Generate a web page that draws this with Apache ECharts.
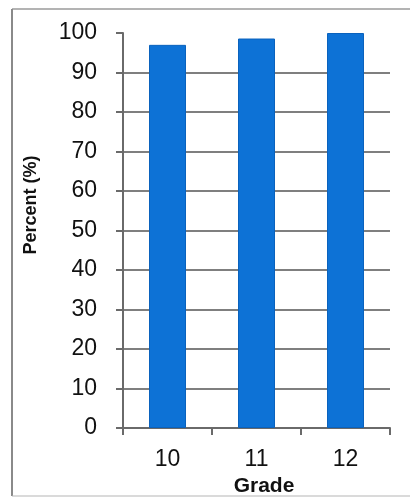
<!DOCTYPE html>
<html>
<head>
<meta charset="utf-8">
<script src="https://cdn.jsdelivr.net/npm/echarts@6/dist/echarts.min.js"></script>
<style>
  html, body { margin: 0; padding: 0; background: #ffffff; }
  #chart { width: 412px; height: 498px; }
</style>
</head>
<body>
<div id="chart"></div>
<script>
// Share of students by grade
const grades = ['10', '11', '12'];
const percents = [97.0, 98.6, 100];
const yTicks = [0, 10, 20, 30, 40, 50, 60, 70, 80, 90, 100];

const FONT = '"Liberation Sans", Arial, sans-serif';

// Grid lines for every tick except the top one
const gridColors = yTicks.map(v => (v === 100 ? 'rgba(0,0,0,0)' : '#555555'));

const chart = echarts.init(document.getElementById('chart'), null, { renderer: 'canvas' });

chart.setOption({
  animation: false,
  backgroundColor: '#ffffff',
  grid: { left: 123, right: 22, top: 33, bottom: 70, containLabel: false },
  xAxis: {
    type: 'category',
    data: grades,
    boundaryGap: true,
    axisLine: { show: true, lineStyle: { color: '#6a6a6a', width: 2 } },
    axisTick: { show: true, length: 7, alignWithLabel: false, lineStyle: { color: '#6a6a6a', width: 2 } },
    axisLabel: { color: '#111111', fontSize: 23, fontFamily: FONT, margin: 20 },
    splitLine: { show: false }
  },
  yAxis: {
    type: 'value',
    min: 0,
    max: 100,
    interval: 10,
    axisLine: { show: true, lineStyle: { color: '#6a6a6a', width: 2 } },
    axisTick: { show: true, length: 7, lineStyle: { color: '#6a6a6a', width: 2 } },
    axisLabel: { color: '#111111', fontSize: 23, fontFamily: FONT, margin: 26 },
    splitLine: { show: true, lineStyle: { color: gridColors, width: 1.5 } }
  },
  series: [{
    type: 'bar',
    data: percents,
    barWidth: 37,
    itemStyle: { color: '#0d72d6', borderColor: '#0a62bd', borderWidth: 1 }
  }],
  graphic: [
    // frame around the figure
    { type: 'line', shape: { x1: 12, y1: 9, x2: 410, y2: 9 }, style: { stroke: '#9a9a9a', lineWidth: 1.5 } },
    { type: 'line', shape: { x1: 12, y1: 9, x2: 12, y2: 496 }, style: { stroke: '#8a8a8a', lineWidth: 2 } },
    { type: 'line', shape: { x1: 12, y1: 496, x2: 410, y2: 496 }, style: { stroke: '#b5b5b5', lineWidth: 1 } },
    // axis titles
    {
      type: 'text', x: 31, y: 205, rotation: Math.PI / 2,
      style: { text: 'Percent (%)', font: 'bold 18px ' + FONT, fill: '#111111', align: 'center', verticalAlign: 'middle' }
    },
    {
      type: 'text', x: 264, y: 486,
      style: { text: 'Grade', font: 'bold 21px ' + FONT, fill: '#111111', align: 'center', verticalAlign: 'middle' }
    }
  ]
});
</script>
</body>
</html>
